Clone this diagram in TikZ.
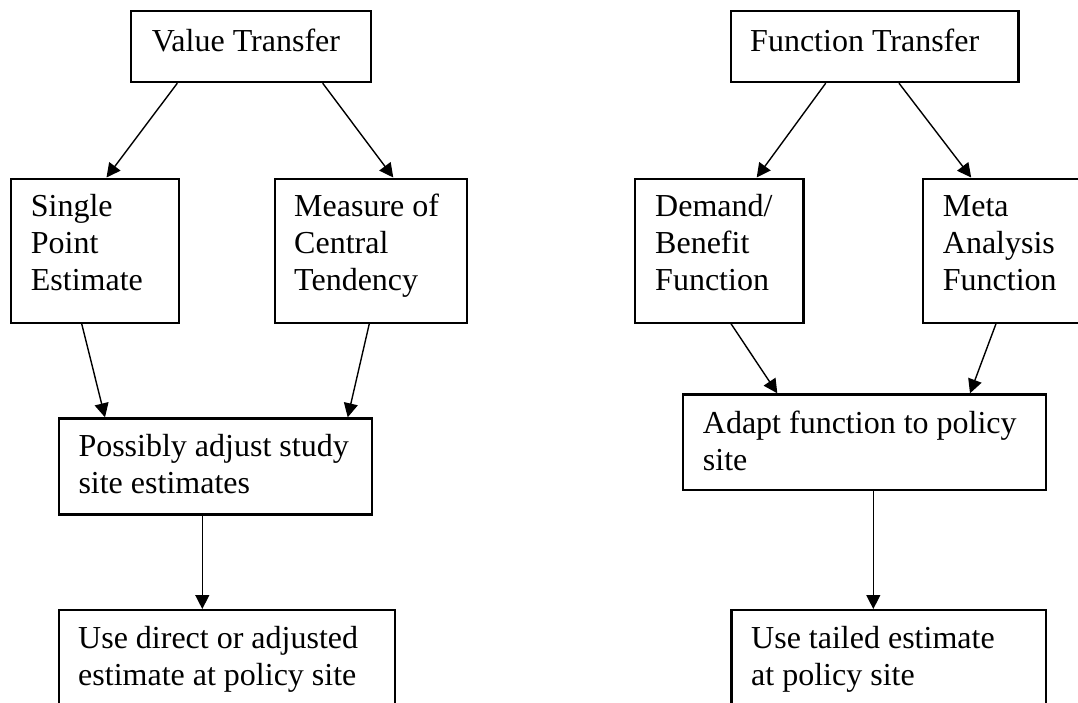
\documentclass[tikz,border=0pt]{standalone}
\usepackage{fontspec}
\setmainfont{Liberation Serif}
\usetikzlibrary{arrows.meta}
\begin{document}
\begin{tikzpicture}[x=1pt,y=-1pt,
  box/.style={draw=black,line width=2.2pt,rectangle,anchor=north west,inner sep=0pt},
  txt/.style={anchor=base west,align=left,inner sep=0pt,font=\fontsize{32}{37}\selectfont},
  arr/.style={line width=1.4pt,-{Triangle[length=14pt,width=14pt]}}]
\useasboundingbox (0,0) rectangle (1078,702);
\clip (0,0) rectangle (1078,702);
\fill[white] (0,0) rectangle (1078,702);
% boxes
\node[box,minimum width=240pt,minimum height=71pt] (vt) at (130,10) {};
\node[box,minimum width=168pt,minimum height=144pt] (sp) at (9.5,177.5) {};
\node[box,minimum width=192pt,minimum height=144pt] (mc) at (274,177.5) {};
\node[box,minimum width=312.7pt,minimum height=96pt] (pa) at (58,417.3) {};
\node[box,minimum width=336pt,minimum height=110pt] (ud) at (58,609) {};
\node[box,minimum width=287.3pt,minimum height=71pt] (ft) at (730,10) {};
\node[box,minimum width=168.3pt,minimum height=144pt] (df) at (634,177.5) {};
\node[box,minimum width=200pt,minimum height=144pt] (ma) at (921.7,177.5) {};
\node[box,minimum width=362.9pt,minimum height=95.7pt] (ad) at (681.7,393.3) {};
\node[box,minimum width=314.3pt,minimum height=110pt] (ut) at (730.3,609) {};
% texts (base anchor = baseline of last line)
\node[txt] (tvt) at ([xshift=21.7pt,yshift=-41.5pt]vt.north west) {Value Transfer};
\node[txt] (tsp) at ([xshift=21.2pt,yshift=-113.2pt]sp.north west) {Single\\Point\\Estimate};
\node[txt] (tmc) at ([xshift=20pt,yshift=-113.2pt]mc.north west) {Measure of\\Central\\Tendency};
\node[txt] (tpa) at ([xshift=20.3pt,yshift=-76.2pt]pa.north west) {Possibly adjust study\\site estimates};
\node[txt] (tud) at ([xshift=20pt,yshift=-76pt]ud.north west) {Use direct or adjusted\\estimate at policy site};
\node[txt] (tft) at ([xshift=20pt,yshift=-41.5pt]ft.north west) {Function Transfer};
\node[txt] (tdf) at ([xshift=21pt,yshift=-113.2pt]df.north west) {Demand/\\Benefit\\Function};
\node[txt] (tma) at ([xshift=21pt,yshift=-113.2pt]ma.north west) {Meta\\Analysis\\Function};
\node[txt] (tad) at ([xshift=21pt,yshift=-76.7pt]ad.north west) {Adapt function to policy\\site};
\node[txt] (tut) at ([xshift=20.7pt,yshift=-76pt]ut.north west) {Use tailed estimate\\at policy site};
% arrows
\draw[arr] ([xshift=47.3pt]vt.south west) -- ([xshift=97pt]sp.north west);
\draw[arr] ([xshift=192.7pt]vt.south west) -- ([xshift=119.3pt]mc.north west);
\draw[arr] ([xshift=72.2pt]sp.south west) -- ([xshift=47pt]pa.north west);
\draw[arr] ([xshift=95.3pt]mc.south west) -- ([xshift=289.7pt]pa.north west);
\draw[arr] ([xshift=144.3pt]pa.south west) -- ([xshift=144.3pt]ud.north west);
\draw[arr] ([xshift=95.7pt]ft.south west) -- ([xshift=122.7pt]df.north west);
\draw[arr] ([xshift=169pt]ft.south west) -- ([xshift=49.5pt]ma.north west);
\draw[arr] ([xshift=97pt]df.south west) -- ([xshift=95.6pt]ad.north west);
\draw[arr] ([xshift=74.3pt]ma.south west) -- ([xshift=288.3pt]ad.north west);
\draw[arr] ([xshift=191.6pt]ad.south west) -- ([xshift=143pt]ut.north west);
\end{tikzpicture}
\end{document}
